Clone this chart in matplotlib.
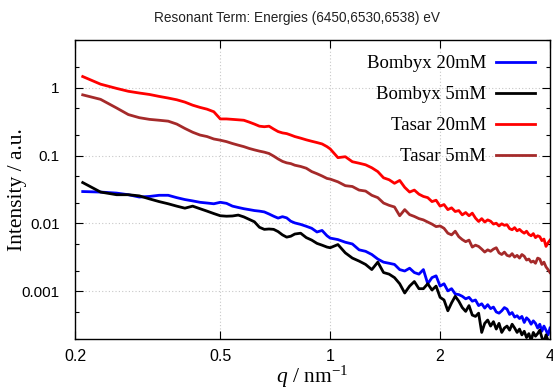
import matplotlib
matplotlib.use("Agg")
import matplotlib.pyplot as plt
from matplotlib.ticker import LogLocator, FixedLocator, NullFormatter, FuncFormatter

plt.rcParams["mathtext.fontset"] = "custom"
plt.rcParams["mathtext.it"] = "Liberation Serif:italic"
plt.rcParams["mathtext.rm"] = "Liberation Serif"
plt.rcParams["mathtext.default"] = "rm"

# Scattering vector q (nm^-1)
q = [0.21, 0.235, 0.26, 0.28, 0.30, 0.32, 0.34, 0.36, 0.38, 0.40,
     0.42, 0.44, 0.46, 0.48, 0.50, 0.52, 0.54, 0.56, 0.58, 0.60,
     0.62, 0.64, 0.66, 0.68, 0.70, 0.72, 0.74, 0.76, 0.78, 0.80,
     0.83, 0.86, 0.89, 0.92, 0.95, 0.98,
     1.00, 1.05, 1.10, 1.15, 1.20, 1.25, 1.30, 1.35, 1.40, 1.45,
     1.50, 1.55, 1.60, 1.65, 1.70, 1.75, 1.80, 1.85, 1.90, 1.95,
     2.00, 2.05, 2.10, 2.15, 2.20, 2.25, 2.30, 2.35, 2.40, 2.45,
     2.50, 2.55, 2.60, 2.65, 2.70, 2.75, 2.80, 2.85, 2.90, 2.95,
     3.00, 3.05, 3.10, 3.15, 3.20, 3.25, 3.30, 3.35, 3.40, 3.45,
     3.50, 3.55, 3.60, 3.65, 3.70, 3.75, 3.80, 3.85, 3.90, 3.95, 4.00]

bombyx_20mM = [0.0295, 0.029, 0.028, 0.0265, 0.0245, 0.025, 0.026, 0.026, 0.024, 0.0225,
               0.0215, 0.0205, 0.020, 0.0195, 0.0205, 0.0198, 0.018, 0.0172, 0.0165, 0.016,
               0.0155, 0.0152, 0.0148, 0.0138, 0.0128, 0.012, 0.0126, 0.0121, 0.0108, 0.0102,
               0.0097, 0.0091, 0.0085, 0.0075, 0.0079, 0.0066,
               0.0061, 0.0058, 0.0053, 0.0050, 0.0041, 0.0039, 0.0035, 0.0030, 0.0027, 0.0026,
               0.0025, 0.0021, 0.0020, 0.0022, 0.0019, 0.0018, 0.0021, 0.0013, 0.0016, 0.0017,
               0.0012, 0.0013, 0.00102, 0.0011, 0.00092, 0.0009, 0.00085, 0.00078, 0.00082, 0.00072,
               0.00075, 0.00062, 0.00066, 0.00057, 0.00064, 0.00056, 0.00059, 0.0005, 0.00048, 0.00052,
               0.00058, 0.00055, 0.00046, 0.00049, 0.00042, 0.00044, 0.0004, 0.00043, 0.00035, 0.00041,
               0.00038, 0.00033, 0.00037, 0.00034, 0.00029, 0.00033, 0.00026, 0.00031, 0.00027, 0.00023, 0.00029]

bombyx_5mM = [0.040, 0.029, 0.0265, 0.0265, 0.0255, 0.023, 0.021, 0.0195, 0.018, 0.0168,
              0.018, 0.0165, 0.0152, 0.014, 0.013, 0.0128, 0.0129, 0.0133, 0.0125, 0.0115,
              0.0106, 0.0088, 0.0082, 0.0083, 0.0082, 0.0076, 0.0068, 0.0063, 0.0065, 0.0070,
              0.0072, 0.0062, 0.0057, 0.0051, 0.0048, 0.0045,
              0.0044, 0.0049, 0.0037, 0.0031, 0.0028, 0.0025, 0.0021, 0.0027, 0.0019, 0.0018,
              0.0016, 0.0013, 0.00095, 0.0012, 0.0014, 0.0011, 0.0011, 0.0013, 0.00105, 0.0012,
              0.00082, 0.00075, 0.00052, 0.00068, 0.00085, 0.00072, 0.00058, 0.00051, 0.00062, 0.00045,
              0.00043, 0.00048, 0.00025, 0.00034, 0.00038, 0.00031, 0.00036, 0.00028, 0.00034, 0.00025,
              0.00029, 0.00031, 0.00027, 0.00033, 0.00029, 0.00025, 0.00028, 0.00023, 0.00026, 0.00021,
              0.00024, 0.00019, 0.00025, 0.00022, 0.00024, 0.00027, 0.00021, 0.00018, 0.00023, 0.00019, 0.00017]

tasar_20mM = [1.45, 1.12, 0.97, 0.88, 0.83, 0.79, 0.74, 0.70, 0.66, 0.61,
              0.55, 0.51, 0.48, 0.44, 0.345, 0.345, 0.34, 0.335, 0.33, 0.31,
              0.29, 0.27, 0.265, 0.27, 0.245, 0.225, 0.215, 0.21, 0.20, 0.19,
              0.18, 0.17, 0.162, 0.155, 0.148, 0.135,
              0.125, 0.093, 0.096, 0.081, 0.077, 0.073, 0.066, 0.058, 0.047, 0.044,
              0.039, 0.043, 0.034, 0.029, 0.031, 0.027, 0.025, 0.024, 0.021, 0.022,
              0.018, 0.019, 0.016, 0.017, 0.015, 0.0155, 0.0134, 0.0145, 0.013, 0.0142,
              0.012, 0.0107, 0.0118, 0.0105, 0.0113, 0.0108, 0.0098, 0.0101, 0.0092, 0.0099,
              0.0094, 0.0096, 0.0084, 0.0081, 0.0087, 0.0078, 0.0082, 0.0076, 0.0072, 0.0077,
              0.0069, 0.0066, 0.0071, 0.0062, 0.0066, 0.0064, 0.0056, 0.0059, 0.0046, 0.0052, 0.0057]

tasar_5mM = [0.78, 0.67, 0.50, 0.40, 0.36, 0.34, 0.33, 0.32, 0.29, 0.25,
             0.22, 0.20, 0.19, 0.175, 0.168, 0.16, 0.15, 0.142, 0.135, 0.127,
             0.121, 0.116, 0.112, 0.107, 0.098, 0.089, 0.082, 0.078, 0.076, 0.072,
             0.069, 0.065, 0.058, 0.054, 0.050, 0.046,
             0.045, 0.041, 0.036, 0.035, 0.031, 0.030, 0.026, 0.024, 0.020, 0.0185,
             0.0175, 0.013, 0.016, 0.0135, 0.0127, 0.0118, 0.0113, 0.0105, 0.0098, 0.0090,
             0.0092, 0.0085, 0.0072, 0.0068, 0.0077, 0.0064, 0.0058, 0.0054, 0.0057, 0.0045,
             0.0048, 0.0046, 0.0042, 0.0038, 0.0041, 0.0039, 0.0042, 0.0044, 0.0037, 0.0035,
             0.0038, 0.0034, 0.0033, 0.0036, 0.0032, 0.0034, 0.0031, 0.0035, 0.0033, 0.0029,
             0.0030, 0.0027, 0.0028, 0.0026, 0.0031, 0.0030, 0.0025, 0.0027, 0.0023, 0.0021, 0.0019]

series_labels = ["Bombyx 20mM", "Bombyx 5mM", "Tasar 20mM", "Tasar 5mM"]
series_colors = ["#0000ff", "#000000", "#ff0000", "#a52a2a"]
x_ticks = [0.2, 0.5, 1, 2, 4]
y_ticks = [0.001, 0.01, 0.1, 1]

fig = plt.figure(figsize=(5.53, 3.89), dpi=100)
ax = fig.add_axes([0.1356, 0.1285, 0.859, 0.7687])

for vals, lab, col in zip([bombyx_20mM, bombyx_5mM, tasar_20mM, tasar_5mM],
                          series_labels, series_colors):
    ax.plot(q, vals, color=col, lw=2.0, label=lab)

ax.set_xscale("log")
ax.set_yscale("log")
ax.set_xlim(0.2, 4)
ax.set_ylim(2e-4, 5)

ax.xaxis.set_major_locator(FixedLocator(x_ticks))
ax.xaxis.set_minor_locator(FixedLocator([]))
ax.xaxis.set_major_formatter(FuncFormatter(lambda v, p: f"{v:g}"))
ax.xaxis.set_minor_formatter(NullFormatter())
ax.yaxis.set_major_locator(FixedLocator(y_ticks))
ax.yaxis.set_minor_locator(LogLocator(base=10, subs=(2, 5)))
ax.yaxis.set_major_formatter(FuncFormatter(lambda v, p: f"{v:g}"))
ax.yaxis.set_minor_formatter(NullFormatter())

for lbl in ax.get_xticklabels():
    lbl.set_fontfamily("Liberation Sans")
    lbl.set_fontsize(11.5)
for lbl in ax.get_yticklabels():
    lbl.set_fontfamily("Liberation Sans")
    lbl.set_fontsize(11)

ax.tick_params(which="both", direction="in", top=True, right=True, width=0.8)
ax.tick_params(which="major", length=6)
ax.tick_params(axis="y", which="major", pad=11)
ax.tick_params(axis="x", which="major", pad=7)
ax.tick_params(which="minor", length=3)
ax.grid(True, which="major", color="#c8c8c8", linestyle=(0, (1, 2)), lw=0.8)
for s in ax.spines.values():
    s.set_linewidth(1.0)

ax.set_ylabel("Intensity / a.u.", family="Liberation Serif", fontsize=15.5, va="center")
ax.yaxis.set_label_coords(-0.122, 0.5)
ax.set_xlabel(r"$\it{q}$ / nm$^{-1}$", family="Liberation Serif", fontsize=15.5, va="baseline")
ax.xaxis.set_label_coords(0.5, -0.148)

fig.text(0.537, 0.954, "Resonant Term: Energies (6450,6530,6538) eV",
         family="Liberation Sans", fontsize=9.8, ha="center", va="center", color="#222222")

leg = ax.legend(loc="upper right", frameon=False, markerfirst=False,
                prop={"family": "Liberation Serif", "size": 13.5},
                handlelength=2.1, labelspacing=0.74, borderaxespad=0.4, handletextpad=0.5)

fig.savefig("out.png", dpi=100)
